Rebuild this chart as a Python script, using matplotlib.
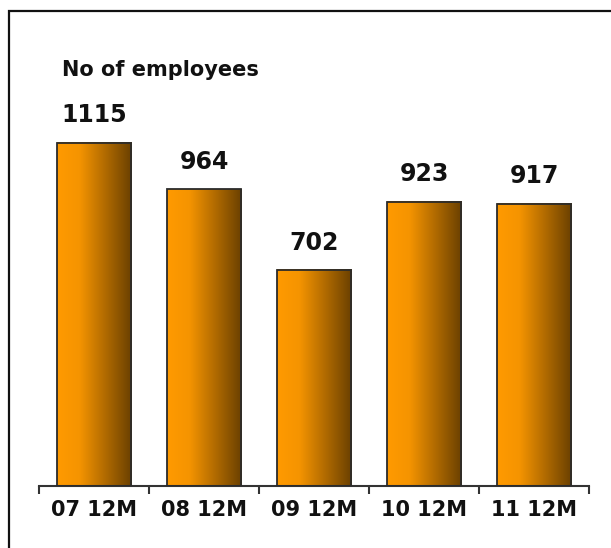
import numpy as np
import matplotlib
matplotlib.use('Agg')
import matplotlib.pyplot as plt
from matplotlib.colors import LinearSegmentedColormap
from matplotlib.patches import Rectangle

categories = ['07 12M', '08 12M', '09 12M', '10 12M', '11 12M']
employees = [1115, 964, 702, 923, 917]
title = 'No of employees'

W, H = 611, 548
fig = plt.figure(figsize=(W / 100, H / 100), dpi=100)

# outer frame (right and bottom edges fall outside the image)
fig.patches.append(Rectangle((9 / W, -0.2), 1.2, (H - 11) / H + 0.2,
                             transform=fig.transFigure, fill=False,
                             edgecolor='#111111', linewidth=1.6))

# axes placed in pixels: baseline at y=486, x from 39 to 589
ax = fig.add_axes([39 / W, (H - 486) / H, 550 / W, 475 / H])
ax.set_facecolor('none')

cmap = LinearSegmentedColormap.from_list(
    'bar', [(0, '#ff9a00'), (0.3, '#f59400'), (0.65, '#b06a00'), (1, '#6a4000')])
grad = np.linspace(0, 1, 256).reshape(1, -1)

x = np.arange(len(categories))
bw = 0.68
for xi, v in zip(x, employees):
    ax.imshow(grad, cmap=cmap, aspect='auto', zorder=2,
              extent=(xi - bw / 2, xi + bw / 2, 0, v))
ax.bar(x, employees, width=bw, facecolor='none', edgecolor='#2b2b2b',
       linewidth=1.3, zorder=3)

for xi, v in zip(x, employees):
    ax.annotate(str(v), (xi, v), xytext=(0, 11), textcoords='offset points',
                ha='center', va='bottom', fontsize=17, fontweight='bold',
                color='#111111')

ax.set_xlim(-0.5, len(categories) - 0.5)
ax.set_ylim(0, 475 / 0.308)

for s in ['top', 'left', 'right']:
    ax.spines[s].set_visible(False)
ax.spines['bottom'].set_color('#333333')
ax.spines['bottom'].set_linewidth(1.5)
ax.set_yticks([])
ax.set_xticks(x)
ax.set_xticklabels(categories, fontsize=15, fontweight='bold', color='#111111')
ax.tick_params(axis='x', which='major', length=0, pad=10)
ax.set_xticks(np.arange(len(categories) + 1) - 0.5, minor=True)
ax.tick_params(axis='x', which='minor', length=6, width=1.5, color='#333333')

fig.text(62 / W, (H - 76) / H, title, fontsize=15, fontweight='bold',
         color='#111111', ha='left', va='baseline')

fig.savefig('out.png', dpi=100)
